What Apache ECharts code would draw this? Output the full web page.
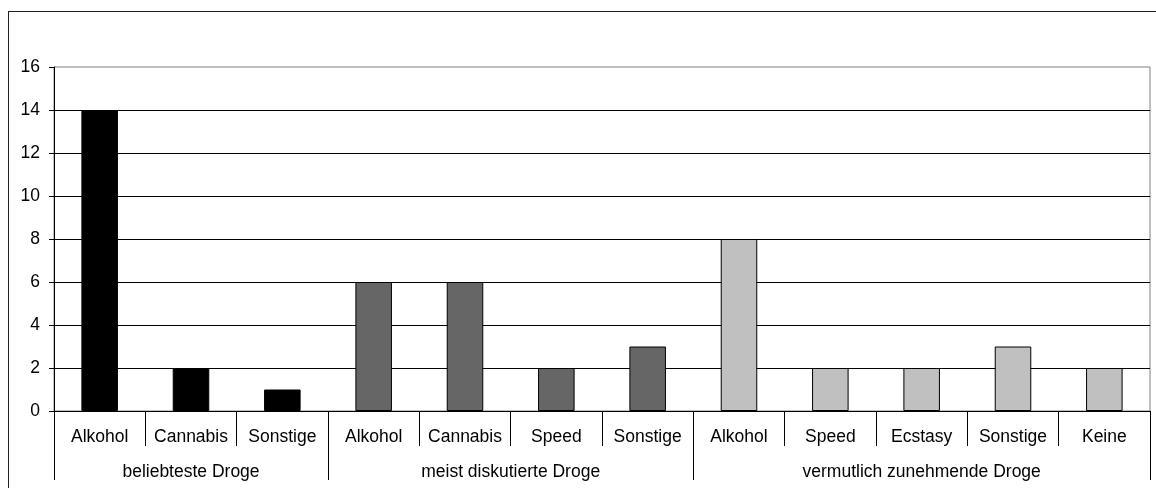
<!DOCTYPE html>
<html>
<head>
<meta charset="utf-8">
<script src="https://cdn.jsdelivr.net/npm/echarts@6/dist/echarts.min.js"></script>
<style>
  html, body { margin: 0; padding: 0; background: #fff; }
  #wrap { position: relative; width: 1156px; height: 488px; overflow: hidden; }
  #frame { position: absolute; left: 8px; top: 11px; width: 1300px; height: 600px;
           border-left: 1px solid #222; border-top: 1px solid #222; box-sizing: border-box; }
  #chart { position: absolute; left: 0; top: 0; width: 1156px; height: 488px; }
</style>
</head>
<body>
<div id="wrap"><div id="frame"></div><div id="chart"></div></div>
<script>
// Survey answers: counts per drug, grouped by question
const categories = ['Alkohol', 'Cannabis', 'Sonstige',
                    'Alkohol', 'Cannabis', 'Speed', 'Sonstige',
                    'Alkohol', 'Speed', 'Ecstasy', 'Sonstige', 'Keine'];
const values = [14, 2, 1,
                6, 6, 2, 3,
                8, 2, 2, 3, 2];
const groupNames = ['beliebteste Droge', 'meist diskutierte Droge', 'vermutlich zunehmende Droge'];
const groupSizes = [3, 4, 5];
const groupColors = ['#000000', '#666666', '#c0c0c0'];
const yMin = 0, yMax = 16, yStep = 2;

const FONT = "'Liberation Sans', Arial, sans-serif";
const FS = 17.5;

// group index of each category
const groupOf = [];
groupSizes.forEach((n, g) => { for (let i = 0; i < n; i++) groupOf.push(g); });

// Second-level axis: half-category slots (boundaryGap false) so that
// group borders and group centres both fall on slot points.
const nSlots = categories.length * 2 + 1;
const slotLabels = new Array(nSlots).fill('');
const boundarySlots = new Set([0]);
let start = 0;
groupSizes.forEach((n, g) => {
  slotLabels[2 * start + n] = groupNames[g];
  start += n;
  boundarySlots.add(2 * start);
});

const barData = values.map((v, i) => ({
  value: v,
  itemStyle: { color: groupColors[groupOf[i]] }
}));

const chart = echarts.init(document.getElementById('chart'), null, { renderer: 'canvas' });
chart.setOption({
  animation: false,
  textStyle: { fontFamily: FONT },
  grid: {
    left: 54, right: 6, top: 67, bottom: 77,
    show: true, borderColor: '#808080', borderWidth: 1, backgroundColor: 'transparent'
  },
  xAxis: [
    {
      type: 'category',
      data: categories,
      boundaryGap: true,
      axisLine: { show: true, lineStyle: { color: '#000', width: 1 } },
      axisTick: { show: true, interval: 0, length: 35, lineStyle: { color: '#000', width: 1 } },
      axisLabel: { interval: 0, margin: 17, color: '#000', fontSize: FS, fontFamily: FONT },
      splitLine: { show: false }
    },
    {
      type: 'category',
      data: slotLabels,
      boundaryGap: false,
      position: 'bottom',
      axisLine: { show: false },
      axisTick: {
        show: true, length: 69,
        interval: (i) => boundarySlots.has(i),
        lineStyle: { color: '#000', width: 1 }
      },
      axisLabel: {
        interval: (i) => slotLabels[i] !== '',
        margin: 52, color: '#000', fontSize: FS, fontFamily: FONT
      },
      splitLine: { show: false }
    }
  ],
  yAxis: {
    type: 'value',
    min: yMin, max: yMax, interval: yStep,
    axisLine: { show: true, lineStyle: { color: '#000', width: 1 } },
    axisTick: { show: true, length: 5, lineStyle: { color: '#000', width: 1 } },
    axisLabel: { margin: 14, color: '#000', fontSize: FS, fontFamily: FONT },
    splitLine: { show: true, showMaxLine: false, lineStyle: { color: '#000', width: 1 } }
  },
  series: [{
    type: 'bar',
    xAxisIndex: 0,
    data: barData,
    barWidth: '40%',
    itemStyle: { borderColor: '#000', borderWidth: 1 }
  }]
});
</script>
</body>
</html>
